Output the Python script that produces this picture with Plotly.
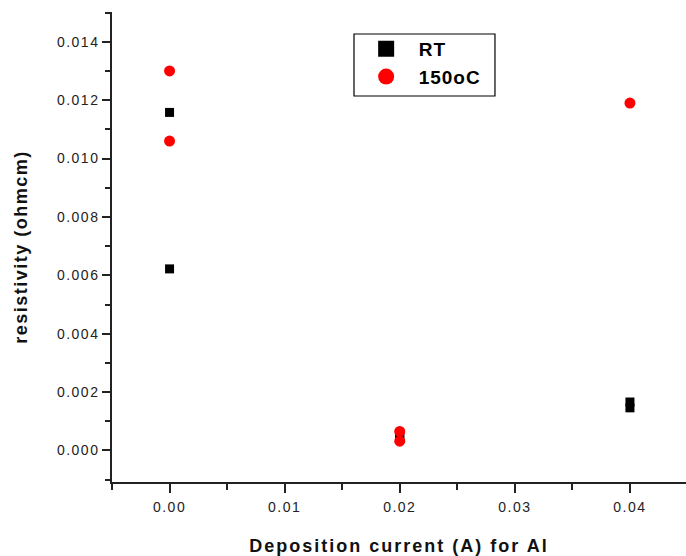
import plotly.graph_objects as go

# Data
rt_x = [0.0, 0.0, 0.02, 0.02, 0.04, 0.04]
rt_y = [0.01158, 0.00622, 0.00050, 0.00046, 0.00166, 0.00146]

hot_x = [0.0, 0.0, 0.02, 0.02, 0.04]
hot_y = [0.01300, 0.01060, 0.00065, 0.00032, 0.01190]

x_ticks = [0.00, 0.01, 0.02, 0.03, 0.04]
x_ticklabels = ["0.00", "0.01", "0.02", "0.03", "0.04"]
y_ticks = [0.000, 0.002, 0.004, 0.006, 0.008, 0.010, 0.012, 0.014]
y_ticklabels = ["0.000", "0.002", "0.004", "0.006", "0.008", "0.010", "0.012", "0.014"]

fig = go.Figure()

fig.add_trace(go.Scatter(
    x=rt_x, y=rt_y, mode="markers", name="RT", showlegend=False,
    marker=dict(symbol="square", size=9, color="black", line=dict(width=0)),
))
fig.add_trace(go.Scatter(
    x=hot_x, y=hot_y, mode="markers", name="150oC", showlegend=False,
    marker=dict(symbol="circle", size=11, color="#ff0000", line=dict(width=0)),
))
# legend entries (larger symbols as in the reference)
fig.add_trace(go.Scatter(
    x=[None], y=[None], mode="markers", name="RT", legendgroup="a",
    marker=dict(symbol="square", size=16, color="black", line=dict(width=0)),
))
fig.add_trace(go.Scatter(
    x=[None], y=[None], mode="markers", name="150oC", legendgroup="b",
    marker=dict(symbol="circle", size=18, color="#ff0000", line=dict(width=0)),
))

FONT = "Liberation Sans, Arial, sans-serif"
axis_font = dict(family=FONT, size=14, color="#222222")
title_font = dict(family=FONT, size=18, color="#111111", weight="bold")

fig.update_layout(
    width=686, height=556,
    margin=dict(l=112, r=0, t=12, b=74),
    paper_bgcolor="white", plot_bgcolor="white",
    showlegend=True,
    legend=dict(
        x=0.421, y=0.9617, xanchor="left", yanchor="top",
        borderwidth=0, bgcolor="rgba(0,0,0,0)",
        font=dict(family=FONT, size=19, color="black", weight="bold"),
        traceorder="grouped", tracegroupgap=0, itemwidth=55,
    ),
    # frame around the legend
    shapes=[dict(type="rect", xref="paper", yref="paper",
                 x0=0.4216, x1=0.6672, y0=0.8213, y1=0.9532,
                 line=dict(color="black", width=1.2), fillcolor="rgba(0,0,0,0)", layer="above")],
    xaxis=dict(
        range=[-0.005, 0.04487], tickvals=x_ticks, ticktext=x_ticklabels,
        showgrid=False, zeroline=False, showline=True, linecolor="#222222", linewidth=1.5,
        ticks="outside", ticklen=9, tickwidth=1.5, tickcolor="#222222",
        minor=dict(dtick=0.005, tick0=0, ticks="outside", ticklen=6, tickwidth=1.5,
                   tickcolor="#222222", showgrid=False),
        tickfont=axis_font, ticklabelstandoff=2,
        title=dict(text="Deposition current (A) for Al", standoff=27, font=title_font),
    ),
    yaxis=dict(
        range=[-0.00108, 0.01502], tickvals=y_ticks, ticktext=y_ticklabels,
        showgrid=False, zeroline=False, showline=True, linecolor="#222222", linewidth=1.5,
        ticks="outside", ticklen=8, tickwidth=1.5, tickcolor="#222222",
        minor=dict(dtick=0.001, tick0=0, ticks="outside", ticklen=5, tickwidth=1.5,
                   tickcolor="#222222", showgrid=False),
        tickfont=axis_font,
        title=dict(text="resistivity (ohmcm)", standoff=32, font=title_font),
    ),
)

# page without the default body margin; widen the lettering as in the reference
post = """
document.body.style.margin='0';
document.body.style.overflow='hidden';
var gd = document.getElementById('{plot_id}');
function spread(){
  gd.querySelectorAll('.xtitle').forEach(function(t){t.style.letterSpacing='2px';});
  gd.querySelectorAll('.ytitle').forEach(function(t){t.style.letterSpacing='1.5px';});
  gd.querySelectorAll('.xtick text, .ytick text').forEach(function(t){t.style.letterSpacing='1.5px';});
  gd.querySelectorAll('.legendtext').forEach(function(t){t.style.letterSpacing='1px';});
}
spread();
gd.on('plotly_afterplot', spread);
"""

fig.write_html("out.html", post_script=post, config={"displayModeBar": False})
